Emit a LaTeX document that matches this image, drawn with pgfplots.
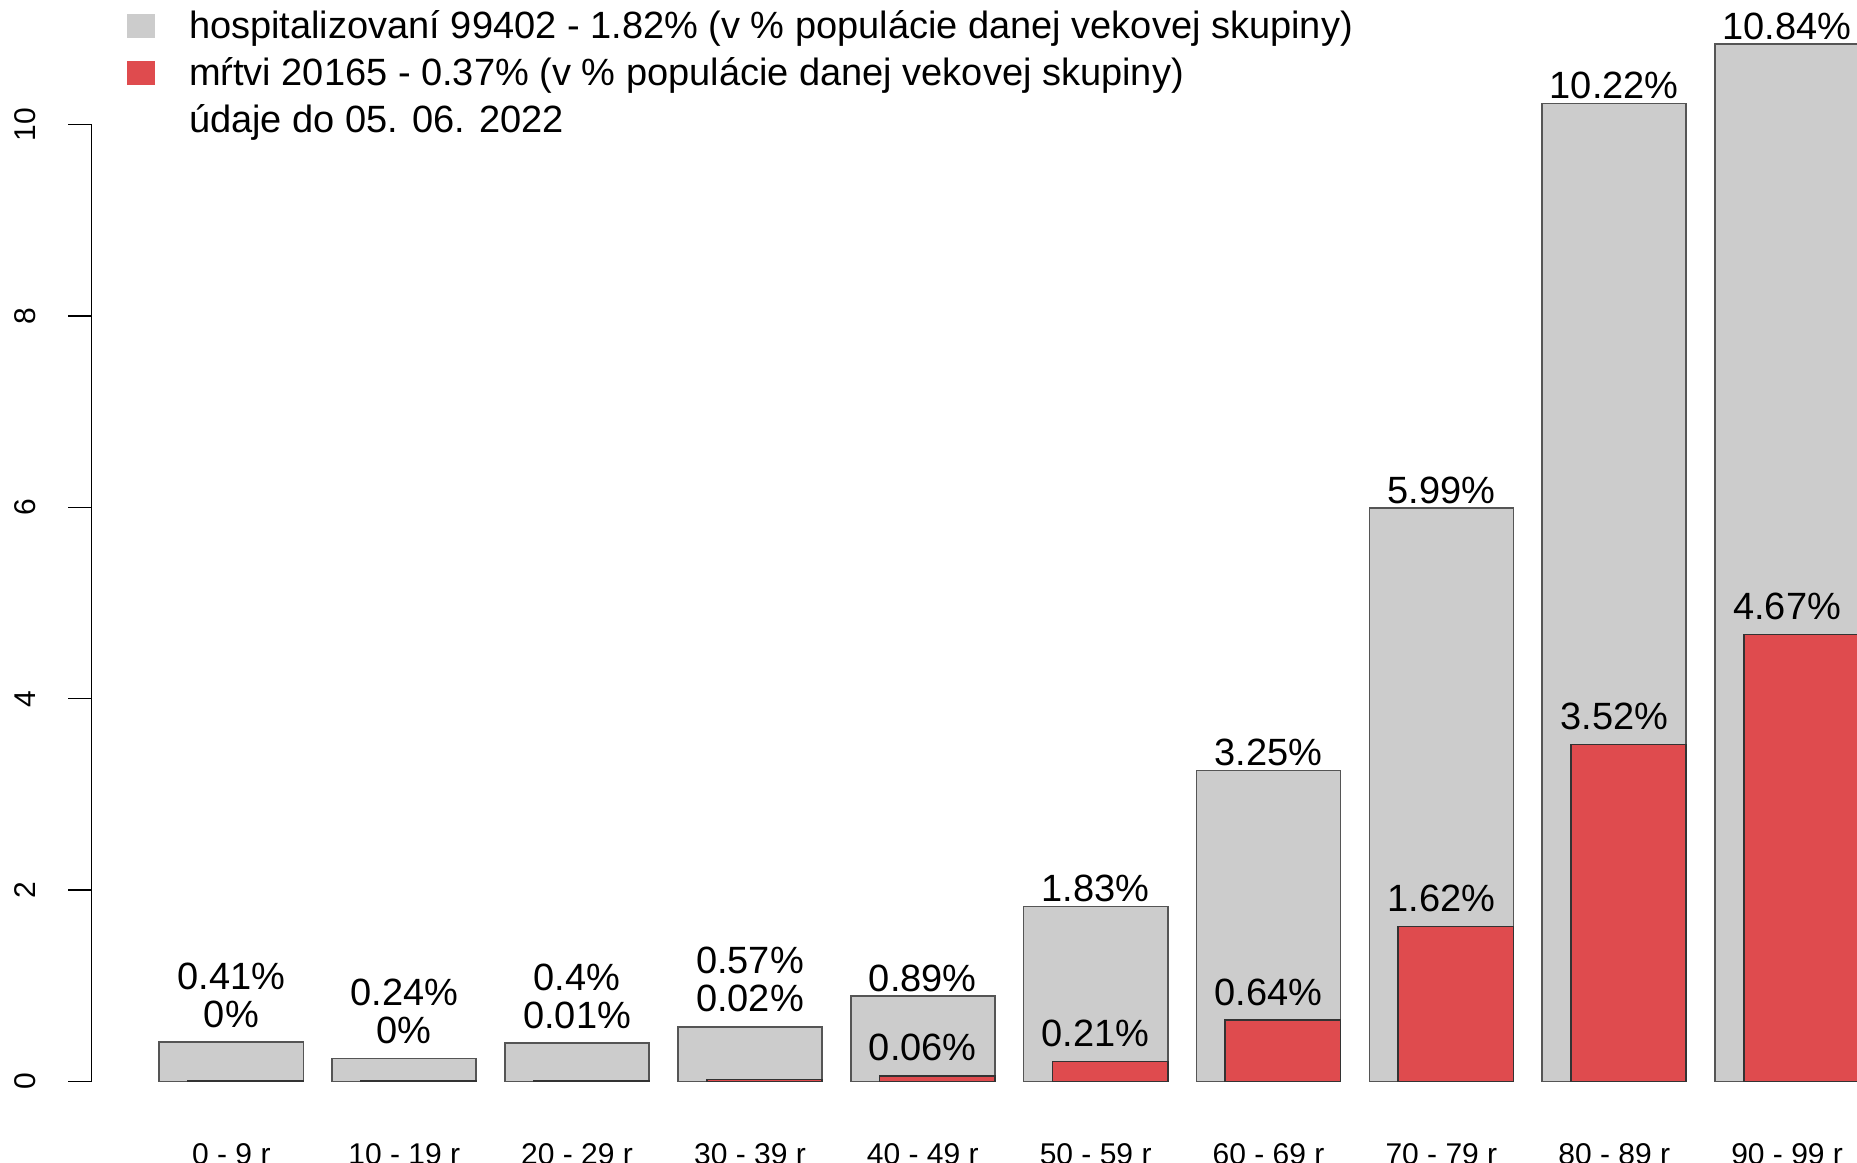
\documentclass[border=0pt]{standalone}
\usepackage{fontspec}
\setmainfont{Liberation Sans}
\usepackage{pgfplots}
\pgfplotsset{compat=1.18}
\definecolor{hosp}{HTML}{CCCCCC}
\definecolor{dead}{HTML}{DF4B4E}
\definecolor{hospedge}{HTML}{555555}
\definecolor{deadedge}{HTML}{333333}
\newcommand{\lblfont}{\fontsize{11.4}{13.6}\selectfont}
\newcommand{\tickfont}{\fontsize{9}{10.8}\selectfont}
\begin{document}
\begin{tikzpicture}
\begin{axis}[
  at={(27.4pt,24.15pt)}, anchor=south west,
  scale only axis, width=542.1pt, height=324.45pt,
  xmin=-0.272, xmax=12.272, ymin=0, ymax=11.3,
  clip=false,
  axis lines=left, axis line style={draw=none},
  tick align=outside, major tick length=6.9pt,
  ytick={0,2,4,6,8,10},
  ytick style={black, line width=0.45pt},
  yticklabel style={rotate=90, anchor=center, inner sep=0pt, yshift=13.0pt, font=\tickfont},
  xtick={0.7,1.9,3.1,4.3,5.5,6.7,7.9,9.1,10.3,11.5},
  xticklabels={0 - 9 r,10 - 19 r,20 - 29 r,30 - 39 r,40 - 49 r,50 - 59 r,60 - 69 r,70 - 79 r,80 - 89 r,90 - 99 r},
  xtick style={draw=none},
  xticklabel style={anchor=base, inner sep=0pt, yshift=-17.85pt, font=\tickfont},
  /pgf/number format/assume math mode=true,
  legend cell align=left,
  legend style={at={(0,1)}, anchor=north west, xshift=10.71pt, yshift=-2.7pt,
    draw=none, fill=none, inner sep=0pt, outer sep=0pt, row sep=2.1pt, font=\lblfont,
    nodes={inner sep=0pt, text height=9pt, text depth=3pt, anchor=base west},
    /tikz/every odd column/.append style={column sep=10.3pt}},
]
\addplot[ybar, bar width=1, bar shift=0pt, fill=hosp, draw=hospedge, line width=0.5pt,
  legend image code/.code={\fill[hosp] (0pt,0.6pt) rectangle (7.8pt,7.2pt);}]
  coordinates {(0.7,0.41) (1.9,0.24) (3.1,0.40) (4.3,0.57) (5.5,0.89) (6.7,1.83) (7.9,3.25) (9.1,5.99) (10.3,10.22) (11.5,10.84)};
\addlegendentry{hospitalizovaní 99402 - 1.82\% (v \% populácie danej vekovej skupiny)}
\addplot[ybar, bar width=0.8, bar shift=0pt, fill=dead, draw=deadedge, line width=0.5pt,
  legend image code/.code={\fill[dead] (0pt,0.6pt) rectangle (7.8pt,7.2pt);}]
  coordinates {(0.8,0.003) (2.0,0.002) (3.2,0.01) (4.4,0.02) (5.6,0.06) (6.8,0.21) (8.0,0.64) (9.2,1.62) (10.4,3.52) (11.6,4.67)};
\addlegendentry{mŕtvi 20165 - 0.37\% (v \% populácie danej vekovej skupiny)}
\addlegendimage{empty legend}
\addlegendentry{údaje do 05. 06. 2022}
\draw[black, line width=0.45pt] (axis cs:-0.272,0) -- (axis cs:-0.272,10);
% labels
\tikzset{lbl/.style={anchor=base, inner sep=0pt, font=\lblfont}}
% two-line labels for small bars
\node[lbl, yshift=15.9pt] at (axis cs:0.7,0.41) {0.41\%};
\node[lbl, yshift=4.5pt] at (axis cs:0.7,0.41) {0\%};
\node[lbl, yshift=15.9pt] at (axis cs:1.9,0.24) {0.24\%};
\node[lbl, yshift=4.5pt] at (axis cs:1.9,0.24) {0\%};
\node[lbl, yshift=15.9pt] at (axis cs:3.1,0.40) {0.4\%};
\node[lbl, yshift=4.5pt] at (axis cs:3.1,0.40) {0.01\%};
\node[lbl, yshift=15.9pt] at (axis cs:4.3,0.57) {0.57\%};
\node[lbl, yshift=4.5pt] at (axis cs:4.3,0.57) {0.02\%};
% gray labels
\node[lbl, yshift=1.5pt] at (axis cs:5.5,0.89) {0.89\%};
\node[lbl, yshift=1.5pt] at (axis cs:6.7,1.83) {1.83\%};
\node[lbl, yshift=1.5pt] at (axis cs:7.9,3.25) {3.25\%};
\node[lbl, yshift=1.5pt] at (axis cs:9.1,5.99) {5.99\%};
\node[lbl, yshift=1.5pt] at (axis cs:10.3,10.22) {10.22\%};
\node[lbl, yshift=1.5pt] at (axis cs:11.5,10.84) {10.84\%};
% red labels
\node[lbl, yshift=4.5pt] at (axis cs:5.5,0.06) {0.06\%};
\node[lbl, yshift=4.5pt] at (axis cs:6.7,0.21) {0.21\%};
\node[lbl, yshift=4.5pt] at (axis cs:7.9,0.64) {0.64\%};
\node[lbl, yshift=4.5pt] at (axis cs:9.1,1.62) {1.62\%};
\node[lbl, yshift=4.5pt] at (axis cs:10.3,3.52) {3.52\%};
\node[lbl, yshift=4.5pt] at (axis cs:11.5,4.67) {4.67\%};
\end{axis}
\pgfresetboundingbox
\path[use as bounding box] (0pt,0pt) rectangle (557.1pt,348.6pt);
\end{tikzpicture}
\end{document}
